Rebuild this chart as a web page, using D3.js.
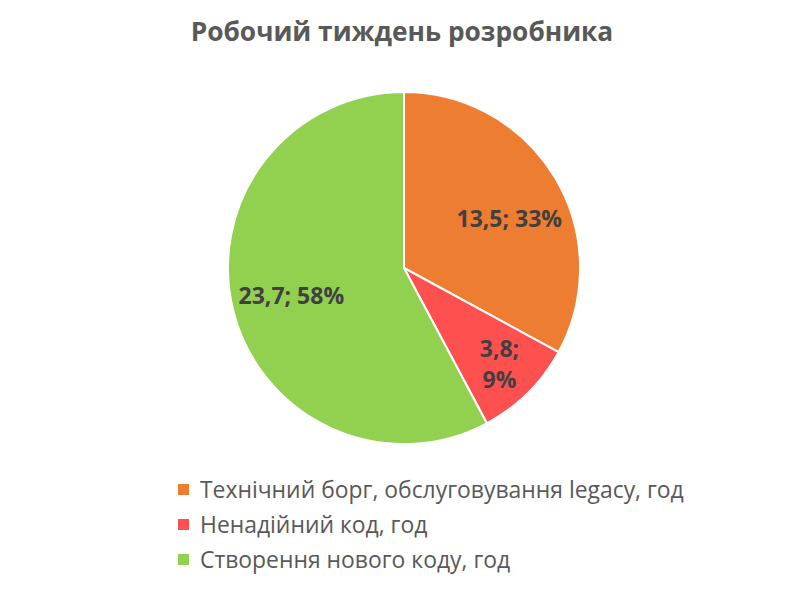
<!DOCTYPE html>
<html>
<head>
<meta charset="utf-8">
<script src="https://cdn.jsdelivr.net/npm/d3@7"></script>
<style>
  body { margin: 0; background: #fff; }
</style>
</head>
<body>
<div id="chart"></div>
<script>
// дані
const categories = ["Технічний борг, обслуговування legacy, год", "Ненадійний код, год", "Створення нового коду, год"]
const hours = [13.5, 3.8, 23.7]
const colors = ["#ED7D31", "#FF5050", "#92D050"]
const title = "Робочий тиждень розробника"

const width = 802, height = 603
const cx = 404, cy = 268, r = 176

const svg = d3.select("#chart").append("svg")
    .attr("width", width)
    .attr("height", height)
    .style("font-family", "'Open Sans', 'Noto Sans', sans-serif")

svg.append("text")
    .attr("x", 402)
    .attr("y", 41)
    .attr("text-anchor", "middle")
    .attr("font-size", 26.3)
    .attr("font-weight", "bold")
    .attr("fill", "#595959")
    .text(title)

const data = categories.map((c, i) => ({ name: c, value: hours[i], color: colors[i] }))
const total = d3.sum(hours)

const pie = d3.pie().value(d => d.value).sort(null)
const arc = d3.arc().innerRadius(0).outerRadius(r)
const arcs = pie(data)

const g = svg.append("g").attr("transform", `translate(${cx},${cy})`)

g.selectAll("path")
    .data(arcs)
    .join("path")
    .attr("d", arc)
    .attr("fill", d => d.data.color)
    .attr("stroke", "#fff")
    .attr("stroke-width", 2)
    .attr("stroke-linejoin", "round")

const fmt = v => String(v).replace(".", ",")
const isSmall = d => d.data.value / total < 0.15
// маленький сектор: мітка далі від центру і на два рядки
const labelPos = d => {
    const rr = isSmall(d) ? r * 0.77 : r * 0.66
    // трохи зсуваємо кут великих міток, як в Excel
    const a = (d.startAngle + d.endAngle) / 2 + (d.index === 0 ? 0.1 : 0)
    return [rr * Math.sin(a), -rr * Math.cos(a)]
}

const labels = g.selectAll("text.lbl")
    .data(arcs)
    .join("text")
    .attr("class", "lbl")
    .attr("text-anchor", "middle")
    .attr("font-size", 23)
    .attr("font-weight", "bold")
    .attr("fill", "#404040")
    .attr("transform", d => `translate(${labelPos(d)})`)

labels.each(function (d) {
    const t = d3.select(this)
    const pct = Math.round(d.data.value / total * 100) + "%"
    if (isSmall(d)) {
        t.append("tspan").attr("x", 0).attr("dy", "-0.32em").text(fmt(d.data.value) + ";")
        t.append("tspan").attr("x", 0).attr("dy", "1.35em").text(pct)
    } else {
        t.append("tspan").attr("x", 0).attr("dy", "0.35em").text(fmt(d.data.value) + "; " + pct)
    }
})

// легенда
const legend = svg.append("g").attr("transform", "translate(178,490)")
const item = legend.selectAll("g")
    .data(data)
    .join("g")
    .attr("transform", (d, i) => `translate(0,${i * 35})`)

item.append("rect")
    .attr("x", 0)
    .attr("y", -6)
    .attr("width", 11)
    .attr("height", 11)
    .attr("fill", d => d.color)

item.append("text")
    .attr("x", 22)
    .attr("y", 0)
    .attr("dy", "0.35em")
    .attr("font-size", 22.9)
    .attr("fill", "#595959")
    .text(d => d.name)
</script>
</body>
</html>
